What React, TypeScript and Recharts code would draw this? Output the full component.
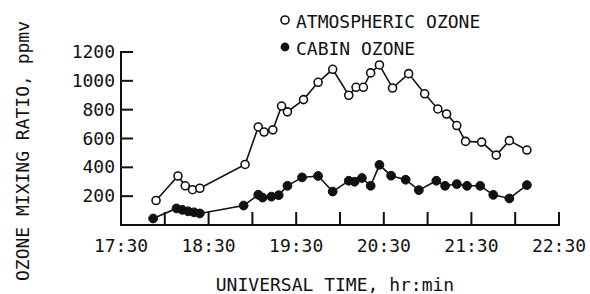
import React from "react";
import { LineChart, Line, XAxis, YAxis } from "recharts";

// times (UT), values in ppmv
const atmTimes = [
  "17:54", "18:09", "18:14", "18:19", "18:24", "18:55", "19:04", "19:08", "19:14", "19:20",
  "19:24", "19:35", "19:45", "19:55", "20:06", "20:11", "20:16", "20:21", "20:27", "20:36",
  "20:47", "20:58", "21:07", "21:13", "21:20", "21:26", "21:37", "21:47", "21:56", "22:08",
];
const atmValues = [
  170, 340, 272, 245, 255, 420, 680, 645, 660, 825,
  785, 870, 990, 1080, 900, 955, 955, 1055, 1110, 950,
  1050, 910, 805, 770, 690, 580, 575, 485, 585, 520,
];

const cabinTimes = [
  "17:52", "18:08", "18:12", "18:16", "18:20", "18:24", "18:54", "19:04", "19:07", "19:13",
  "19:18", "19:24", "19:34", "19:45", "19:55", "20:06", "20:10", "20:15", "20:21", "20:27",
  "20:35", "20:45", "20:54", "21:06", "21:12", "21:20", "21:27", "21:36", "21:45", "21:56",
  "22:08",
];
const cabinValues = [
  45, 115, 105, 95, 88, 80, 135, 210, 190, 197,
  207, 272, 330, 340, 232, 307, 300, 326, 272, 417,
  342, 314, 242, 307, 272, 284, 272, 272, 209, 184,
  277,
];

const xTicks = ["17:30", "18:00", "18:30", "19:00", "19:30", "20:00", "20:30", "21:00", "21:30", "22:00", "22:30"];
const xLabels = ["17:30", "18:30", "19:30", "20:30", "21:30", "22:30"];
const yTicks = [200, 400, 600, 800, 1000, 1200];

const toMin = (s: string) => {
  const [h, m] = s.split(":").map(Number);
  return h * 60 + m;
};

const atmData = atmTimes.map((t, i) => ({ t: toMin(t), v: atmValues[i] }));
const cabinData = cabinTimes.map((t, i) => ({ t: toMin(t), v: cabinValues[i] }));
const xTickMins = xTicks.map(toMin);
const xDomain = [xTickMins[0], xTickMins[xTickMins.length - 1]];
const yDomain = [0, 1200];

const W = 590;
const H = 294;
const M = { top: 52, right: 31, bottom: 0, left: 0 };
const Y_W = 121;
const X_H = 69;

const FONT = "'DejaVu Sans Mono', monospace";
const INK = "#111";
const OFF = 8; // tickSize 6 + tickMargin 2

const fmt = (m: number) => `${Math.floor(m / 60)}:${String(m % 60).padStart(2, "0")}`;

// tick marks drawn as thin filled rects, pointing into the plot
function XTick(props: any) {
  const { x, y, payload } = props;
  const label = fmt(payload.value);
  const ay = y - OFF;
  return (
    <g>
      <rect x={x - 1} y={ay - 13} width={2} height={13} fill={INK} />
      {xLabels.includes(label) && (
        <text x={x} y={ay + 27} textAnchor="middle" fontFamily={FONT} fontSize={18} fill={INK}>
          {label}
        </text>
      )}
    </g>
  );
}

function YTick(props: any) {
  const { x, y, payload } = props;
  const ax = x + OFF;
  return (
    <g>
      <rect x={ax} y={y - 1} width={12} height={2} fill={INK} />
      <text x={ax - 6} y={y + 6} textAnchor="end" fontFamily={FONT} fontSize={18} fill={INK}>
        {payload.value}
      </text>
    </g>
  );
}

export default function App() {
  const plotX = M.left + Y_W;
  const plotW = W - M.left - Y_W - M.right;
  const plotTop = M.top;
  const plotBottom = H - M.bottom - X_H;
  return (
    <div style={{ position: "absolute", left: 0, top: 0, width: W, height: H, background: "#fff" }}>
      <LineChart width={W} height={H} margin={M}>
        <XAxis
          type="number"
          dataKey="t"
          domain={xDomain}
          ticks={xTickMins}
          interval={0}
          height={X_H}
          tickSize={6}
          tickMargin={2}
          tickLine={{ stroke: "none" }}
          tick={<XTick />}
          axisLine={{ stroke: INK, strokeWidth: 2 }}
        />
        <YAxis
          type="number"
          domain={yDomain}
          ticks={yTicks}
          interval={0}
          width={Y_W}
          tickSize={6}
          tickMargin={2}
          tickLine={{ stroke: "none" }}
          tick={<YTick />}
          axisLine={{ stroke: INK, strokeWidth: 2 }}
        />
        <Line data={atmData} dataKey="v" stroke={INK} strokeWidth={1.6} isAnimationActive={false}
          dot={{ r: 4, fill: "#fff", stroke: INK, strokeWidth: 1.6 }} />
        <Line data={cabinData} dataKey="v" stroke={INK} strokeWidth={1.6} isAnimationActive={false}
          dot={{ r: 4.4, fill: INK, stroke: INK, strokeWidth: 1 }} />
      </LineChart>
      <svg width={W} height={H} style={{ position: "absolute", left: 0, top: 0, pointerEvents: "none" }}>
        {/* axis frame as filled rects over the plot box edges */}
        <rect x={plotX - 1} y={plotTop - 1} width={2} height={plotBottom - plotTop + 2} fill={INK} />
        <rect x={plotX - 1} y={plotBottom - 1} width={plotW + 2} height={2} fill={INK} />
        <circle cx={285} cy={20} r={4} fill="#fff" stroke={INK} strokeWidth={1.6} />
        <text x={296} y={28} fontFamily={FONT} fontSize={18} fill={INK}>ATMOSPHERIC OZONE</text>
        <circle cx={285} cy={47} r={4.4} fill={INK} />
        <text x={296} y={55} fontFamily={FONT} fontSize={18} fill={INK}>CABIN OZONE</text>
        <text x={335} y={291} textAnchor="middle" fontFamily={FONT} fontSize={18} fill={INK}>
          UNIVERSAL TIME, hr:min
        </text>
        <text x={22} y={151} transform="rotate(-90 22 151)" textAnchor="middle" dominantBaseline="central"
          fontFamily={FONT} fontSize={18} fill={INK}>
          OZONE MIXING RATIO, ppmv
        </text>
      </svg>
    </div>
  );
}
